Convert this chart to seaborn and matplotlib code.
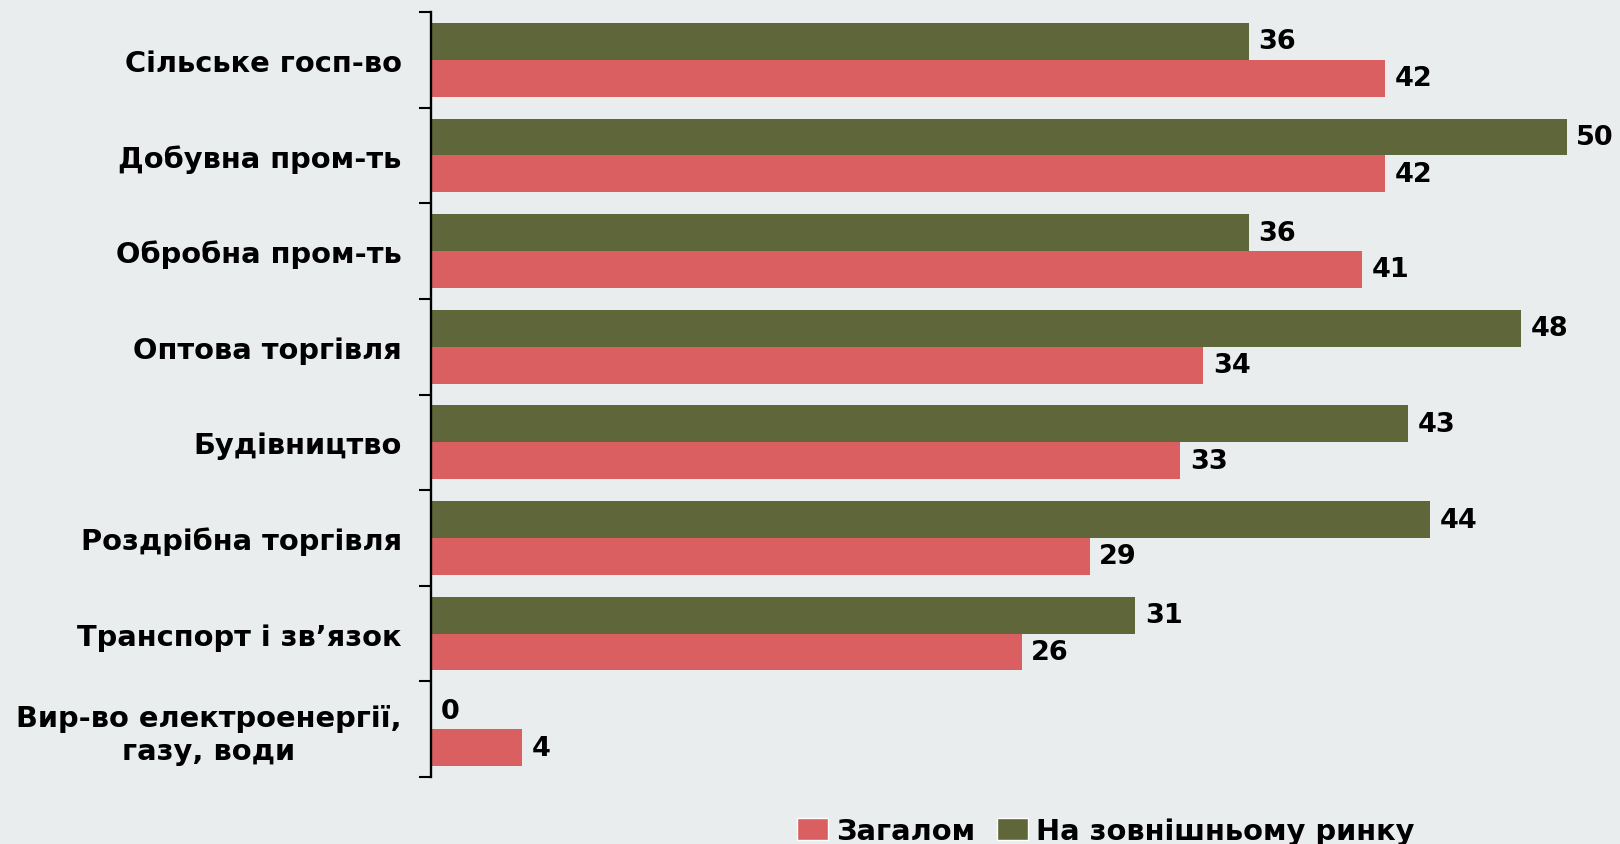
import numpy as np
import pandas as pd
import matplotlib
matplotlib.use("Agg")
import matplotlib.pyplot as plt
from matplotlib.patches import Patch
import seaborn as sns

# --- дані ---
categories = [
    "Сільське госп-во",
    "Добувна пром-ть",
    "Обробна пром-ть",
    "Оптова торгівля",
    "Будівництво",
    "Роздрібна торгівля",
    "Транспорт і зв’язок",
    "Вир-во електроенергії,\nгазу, води",
]
series_names = ["Загалом", "На зовнішньому ринку"]
total_vals = [42, 42, 41, 34, 33, 29, 26, 4]
external_vals = [36, 50, 36, 48, 43, 44, 31, 0]

RED = "#D95F60"
GREEN = "#5F663A"
BG = "#E9EDED"

sns.set_theme(style="white")
plt.rcParams["font.family"] = ["DejaVu Sans"]
plt.rcParams["axes.unicode_minus"] = False
plt.rcParams["text.color"] = "black"

df = pd.DataFrame({
    "cat": categories * 2,
    "series": [series_names[0]] * len(categories) + [series_names[1]] * len(categories),
    "value": total_vals + external_vals,
})

fig = plt.figure(figsize=(16.2, 8.45), dpi=100)
fig.patch.set_facecolor(BG)
ax = fig.add_axes([431 / 1620, 67 / 845, 1181 / 1620, 765 / 845])
ax.set_facecolor(BG)

# зелений зверху, червоний знизу
sns.barplot(
    data=df, x="value", y="cat", hue="series",
    hue_order=[series_names[1], series_names[0]],
    palette=[GREEN, RED], order=categories,
    orient="h", width=0.77, saturation=1, linewidth=0,
    legend=False, ax=ax,
)

for cont in ax.containers:
    ax.bar_label(cont, fmt="%g", padding=7, fontsize=19.5, fontweight="bold", color="black")

ax.set_xlim(0, 52)
ax.set_xlabel("")
ax.set_ylabel("")
ax.xaxis.set_visible(False)
for s in ["top", "right", "bottom"]:
    ax.spines[s].set_visible(False)
ax.spines["left"].set_color("black")
ax.spines["left"].set_linewidth(1.7)

ax.set_yticks(np.arange(-0.5, len(categories), 1), minor=True)
ax.tick_params(axis="y", which="major", length=0, pad=21)
ax.tick_params(axis="y", which="minor", length=8.6, width=1.5, color="black", direction="out", left=True)
for lbl in ax.get_yticklabels():
    lbl.set_fontsize(20.8)
    lbl.set_fontweight("bold")
    lbl.set_color("black")
    lbl.set_multialignment("center")

handles = [Patch(facecolor=RED, label=series_names[0]),
           Patch(facecolor=GREEN, label=series_names[1])]
leg = fig.legend(
    handles=handles, loc="center", bbox_to_anchor=(1106 / 1620, 13 / 845),
    ncol=2, frameon=False, handlelength=1.05, handleheight=0.8,
    handletextpad=0.3, columnspacing=0.75,
    prop={"size": 20.8, "weight": "bold"},
)
for t in leg.get_texts():
    t.set_color("black")

fig.savefig("out.png", dpi=100, facecolor=BG)
